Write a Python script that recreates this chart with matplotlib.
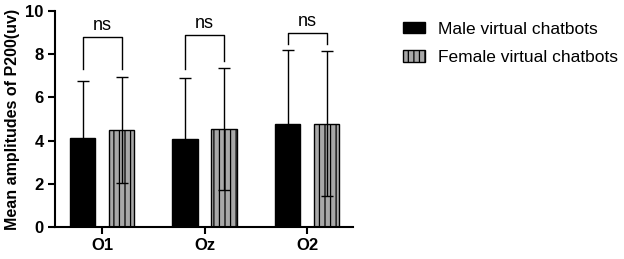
import numpy as np
import matplotlib
matplotlib.use('Agg')
import matplotlib.pyplot as plt
from matplotlib.patches import Patch

plt.rcParams['font.family'] = ['Liberation Sans', 'DejaVu Sans']
plt.rcParams['hatch.linewidth'] = 0.9

# Data
groups = ['O1', 'Oz', 'O2']
male_mean = [4.1, 4.07, 4.75]
male_sd = [2.65, 2.83, 3.45]
female_mean = [4.5, 4.52, 4.78]
female_sd = [2.45, 2.83, 3.35]

# significance brackets: top, left leg end, right leg end
bracket_top = [8.8, 8.9, 8.98]
bracket_left = [7.3, 7.3, 8.47]
bracket_right = [7.3, 7.7, 8.47]
sig_labels = ['ns', 'ns', 'ns']

x = np.arange(len(groups))
w = 0.25
off = 0.19

fig = plt.figure(figsize=(6.24, 2.59), dpi=100)
ax = fig.add_axes([0.088, 0.1236, 0.478, 0.834])

ax.bar(x - off, male_mean, w, color='black', edgecolor='black', linewidth=1,
       yerr=male_sd, capsize=4.5, error_kw=dict(elinewidth=1, capthick=1, ecolor='black'))
ax.bar(x + off, female_mean, w, color='#a8a8a8', edgecolor='black', linewidth=1,
       hatch='|||', yerr=female_sd, capsize=4.5,
       error_kw=dict(elinewidth=1, capthick=1, ecolor='black'))

for i in range(len(groups)):
    xl, xr = x[i] - off, x[i] + off
    ax.plot([xl, xl, xr, xr], [bracket_left[i], bracket_top[i], bracket_top[i], bracket_right[i]],
            color='black', lw=1)
    ax.text(x[i], bracket_top[i] + 0.15, sig_labels[i], ha='center', va='bottom', fontsize=13)

ax.set_xlim(-0.46, 2.45)
ax.set_ylim(0, 10)
ax.set_yticks([0, 2, 4, 6, 8, 10])
ax.set_xticks(x)
ax.set_xticklabels(groups, fontweight='bold', fontsize=12)
for t in ax.get_yticklabels():
    t.set_fontweight('bold')
    t.set_fontsize(12)
ax.set_ylabel('Mean amplitudes of P200(uv)', fontweight='bold', fontsize=11.5, labelpad=4)

for s in ['top', 'right']:
    ax.spines[s].set_visible(False)
for s in ['left', 'bottom']:
    ax.spines[s].set_linewidth(1.5)
ax.tick_params(width=1.5, length=5, direction='out', pad=3)

handles = [Patch(facecolor='black', edgecolor='black', label='Male virtual chatbots'),
           Patch(facecolor='#a8a8a8', edgecolor='black', hatch='|||', label='Female virtual chatbots')]
fig.legend(handles=handles, loc='upper left', bbox_to_anchor=(0.62, 0.975), frameon=False,
           fontsize=12.5, handlelength=1.3, handleheight=0.6, labelspacing=0.75, handletextpad=0.75)

fig.savefig('out.png', dpi=100)
